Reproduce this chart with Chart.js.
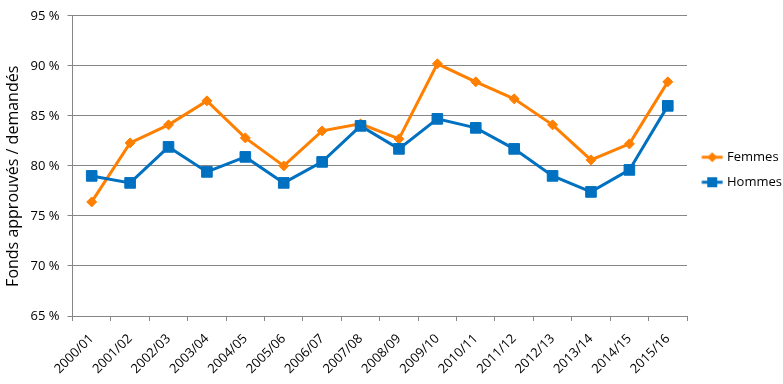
<!DOCTYPE html>
<html>
<head>
<meta charset="utf-8">
<script src="https://cdn.jsdelivr.net/npm/chart.js@4"></script>
<style>
  html, body { margin: 0; padding: 0; background: #fff; }
</style>
</head>
<body>
<canvas id="chart" width="783" height="384"></canvas>
<script>
const years = ["2000/01", "2001/02", "2002/03", "2003/04", "2004/05", "2005/06", "2006/07", "2007/08",
    "2008/09", "2009/10", "2010/11", "2011/12", "2012/13", "2013/14", "2014/15", "2015/16"];
const femmes = [76.4, 82.3, 84.1, 86.5, 82.8, 80.0, 83.5, 84.2, 82.7, 90.2, 88.4, 86.7, 84.1, 80.6, 82.2, 88.4];
const hommes = [79.0, 78.3, 81.9, 79.4, 80.9, 78.3, 80.4, 84.0, 81.7, 84.7, 83.8, 81.7, 79.0, 77.4, 79.6, 86.0];
const yMin = 65, yMax = 95, yStep = 5;

const ORANGE = "#FF8000";
const BLUE = "#0070C0";
const GRID = "#868686";
const FONT = "'Open Sans', sans-serif";

// legend icon: short line with the marker on it
function legendIcon(color, shape) {
    const c = document.createElement("canvas");
    c.width = 27;
    c.height = 14;
    const g = c.getContext("2d");
    g.strokeStyle = color;
    g.fillStyle = color;
    g.lineWidth = 3;
    g.beginPath();
    g.moveTo(5.5, 7);
    g.lineTo(26.5, 7);
    g.stroke();
    if (shape === "diamond") {
        g.beginPath();
        g.moveTo(16, 2);
        g.lineTo(21, 7);
        g.lineTo(16, 12);
        g.lineTo(11, 7);
        g.closePath();
        g.fill();
    } else {
        g.fillRect(11, 2, 10, 10);
    }
    return c;
}
const icons = [legendIcon(ORANGE, "diamond"), legendIcon(BLUE, "square")];

const ctx = document.getElementById("chart").getContext("2d");

new Chart(ctx, {
    type: "line",
    data: {
        labels: years,
        datasets: [{
            label: "Femmes",
            data: femmes,
            borderColor: ORANGE,
            backgroundColor: ORANGE,
            borderWidth: 3,
            pointStyle: "rectRot",
            pointRadius: 5,
            pointBorderWidth: 1,
            order: 1
        }, {
            label: "Hommes",
            data: hommes,
            borderColor: BLUE,
            backgroundColor: BLUE,
            borderWidth: 3,
            pointStyle: "rect",
            pointRadius: 7.5,
            pointBorderWidth: 1,
            order: 0
        }]
    },
    options: {
        responsive: false,
        animation: false,
        layout: { padding: { top: 15, right: 0, bottom: 0, left: 0 } },
        plugins: {
            tooltip: { enabled: false },
            legend: {
                position: "right",
                fullSize: false,
                maxWidth: 96,
                // empty title only pushes the items down a bit
                title: { display: true, text: "", font: { size: 1 }, padding: 3.2 },
                labels: {
                    usePointStyle: true,
                    pointStyleWidth: 21.5,
                    padding: 12,
                    color: "#000",
                    font: { family: FONT, size: 13 },
                    sort: (a, b) => a.datasetIndex - b.datasetIndex,
                    generateLabels(chart) {
                        const items = Chart.defaults.plugins.legend.labels.generateLabels(chart);
                        items.forEach(it => {
                            it.pointStyle = icons[it.datasetIndex];
                            it.rotation = 0;
                        });
                        return items;
                    }
                }
            }
        },
        scales: {
            x: {
                offset: true,
                afterFit(scale) { scale.height = 68; },
                grid: {
                    offset: true,
                    drawOnChartArea: false,
                    drawTicks: true,
                    tickLength: 5,
                    color: GRID
                },
                border: { color: GRID },
                ticks: {
                    autoSkip: false,
                    maxRotation: 45,
                    minRotation: 45,
                    padding: 10,
                    color: "#000",
                    font: { family: FONT, size: 13 }
                }
            },
            y: {
                min: yMin,
                max: yMax,
                afterFit(scale) { scale.width = 72.5; },
                grid: { color: GRID, tickLength: 5 },
                border: { color: GRID },
                ticks: {
                    stepSize: yStep,
                    padding: 8,
                    color: "#000",
                    font: { family: FONT, size: 13 },
                    callback: v => v + " %"
                },
                title: {
                    display: true,
                    text: "Fonds approuvés / demandés\u00a0\u00a0\u00a0\u00a0\u00a0",
                    color: "#000",
                    font: { family: FONT, size: 16 },
                    padding: { top: 4, bottom: 0 }
                }
            }
        }
    }
});
</script>
</body>
</html>
